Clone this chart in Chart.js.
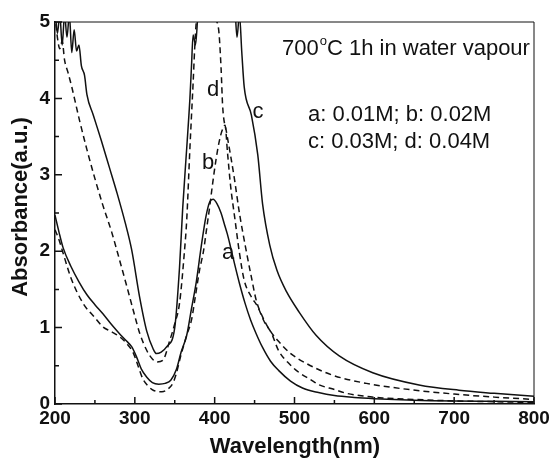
<!DOCTYPE html>
<html>
<head>
<meta charset="utf-8">
<script src="https://cdn.jsdelivr.net/npm/chart.js@4/dist/chart.umd.min.js"></script>
<style>
  html, body { margin: 0; padding: 0; background: #fff; }
  #wrap { position: relative; width: 554px; height: 460px; }
</style>
</head>
<body>
<div id="wrap"><canvas id="chart"></canvas></div>
<script>
const FONT = '"Liberation Sans", Arial, sans-serif';

// wavelength (nm) / absorbance
const aX = [200, 205, 210, 220, 230, 240, 250, 260, 270, 280, 290, 296, 302, 308, 315, 322, 330, 338, 345, 352, 358, 365, 371, 377, 383, 389, 394, 398, 403, 408, 412, 416, 420, 425, 431, 438, 445, 452, 460, 470, 480, 495, 510, 530, 550, 575, 600, 650, 700, 750, 800];
const aY = [2.47, 2.25, 2.05, 1.8, 1.6, 1.43, 1.3, 1.18, 1.05, 0.93, 0.82, 0.75, 0.62, 0.46, 0.35, 0.28, 0.26, 0.27, 0.31, 0.45, 0.68, 0.9, 1.25, 1.6, 2.05, 2.45, 2.65, 2.68, 2.62, 2.5, 2.36, 2.22, 2.05, 1.83, 1.58, 1.32, 1.1, 0.92, 0.74, 0.56, 0.44, 0.3, 0.21, 0.15, 0.11, 0.085, 0.07, 0.05, 0.04, 0.035, 0.03];

const bX = [200, 205, 210, 220, 235, 250, 260, 270, 281, 290, 298, 304, 310, 317, 323, 334, 342, 348, 352, 358, 365, 371, 376, 381, 386, 390, 394, 397, 402, 406, 409, 413, 416, 420, 425, 431, 437, 445, 454, 462, 471, 480, 494, 506, 520, 531, 550, 565, 590, 610, 650, 700, 750, 800];
const bY = [2.28, 2.15, 1.98, 1.65, 1.32, 1.13, 1.01, 0.95, 0.88, 0.79, 0.67, 0.5, 0.33, 0.23, 0.18, 0.16, 0.2, 0.28, 0.4, 0.65, 0.9, 1.1, 1.42, 1.75, 2.0, 2.3, 2.6, 2.85, 3.22, 3.45, 3.57, 3.65, 3.3, 2.85, 2.45, 1.98, 1.62, 1.42, 1.27, 1.08, 0.93, 0.7, 0.52, 0.41, 0.32, 0.25, 0.19, 0.14, 0.1, 0.08, 0.06, 0.04, 0.03, 0.02];

const cX = [200, 203, 206, 209, 212, 215, 218, 221, 224, 227, 230, 233, 237, 240, 248, 258, 268, 278, 288, 296, 306, 315, 323, 327, 333, 340, 350, 356, 360, 365, 369, 371, 373, 376, 380, 400, 425, 428, 431, 434, 437, 446, 454, 460, 469, 478, 490, 506, 527, 556, 598, 656, 706, 750, 800];
const cY = [5.2, 4.85, 5.1, 4.7, 5.1, 4.8, 5.1, 4.6, 4.9, 4.62, 4.7, 4.43, 4.3, 4.05, 3.78, 3.45, 3.1, 2.75, 2.37, 2.02, 1.4, 0.95, 0.72, 0.66, 0.68, 0.75, 1.0, 1.79, 2.57, 3.35, 4.0, 4.43, 4.83, 4.7, 5.2, 5.3, 5.2, 4.8, 5.1, 4.6, 4.15, 3.78, 3.26, 2.62, 2.08, 1.75, 1.47, 1.2, 0.9, 0.63, 0.41, 0.25, 0.18, 0.14, 0.1];

const dX = [200, 203, 206, 209, 212, 216, 221, 225, 231, 240, 250, 260, 271, 281, 291, 300, 306, 315, 322, 328, 335, 344, 350, 356, 362, 365, 369, 371, 373, 375, 377, 385, 395, 400, 405, 408, 410, 415, 420, 425, 431, 440, 446, 452, 460, 470, 480, 494, 515, 547, 590, 635, 700, 750, 800];
const dY = [5.1, 4.8, 4.65, 4.75, 4.5, 4.35, 4.15, 3.97, 3.7, 3.33, 2.95, 2.6, 2.25, 1.88, 1.5, 1.15, 0.93, 0.7, 0.59, 0.55, 0.57, 0.84, 1.05, 1.32, 1.98, 2.41, 3.35, 3.78, 4.2, 4.66, 5.0, 5.3, 5.3, 5.05, 4.9, 4.4, 3.9, 3.55, 3.25, 2.93, 2.5, 1.98, 1.66, 1.36, 1.14, 0.95, 0.82, 0.67, 0.53, 0.38, 0.27, 0.2, 0.13, 0.09, 0.06];

const xTicks = [200, 300, 400, 500, 600, 700, 800];
const yTicks = [0, 1, 2, 3, 4, 5];

const toPoints = (xs, ys) => xs.map((x, i) => ({ x: x, y: ys[i] }));

const line = (xs, ys, dashed) => ({
    data: toPoints(xs, ys),
    borderColor: '#111',
    borderWidth: 1.5,
    borderDash: dashed ? [6, 4] : [],
    pointRadius: 0,
    fill: false,
    cubicInterpolationMode: 'monotone',
    clip: 0,
});

// inward ticks, top/right frame and all free text
const decor = {
    id: 'decor',
    afterDraw(chart) {
        const ctx = chart.ctx;
        const xs = chart.scales.x, ys = chart.scales.y;
        const a = chart.chartArea;
        ctx.save();
        ctx.strokeStyle = '#111';
        ctx.lineWidth = 1.5;
        ctx.beginPath();
        for (let v = 200; v <= 800; v += 50) {
            const px = xs.getPixelForValue(v);
            const len = v % 100 === 0 ? 7 : 4;
            ctx.moveTo(px, a.bottom);
            ctx.lineTo(px, a.bottom - len);
        }
        for (let v = 0; v <= 5; v += 0.5) {
            const py = ys.getPixelForValue(v);
            const len = Number.isInteger(v) ? 7 : 4;
            ctx.moveTo(a.left, py);
            ctx.lineTo(a.left + len, py);
        }
        ctx.stroke();

        ctx.lineWidth = 1;
        ctx.beginPath();
        ctx.moveTo(a.left, a.top);
        ctx.lineTo(a.right, a.top);
        ctx.lineTo(a.right, a.bottom);
        ctx.stroke();

        ctx.fillStyle = '#111';
        ctx.textBaseline = 'middle';
        ctx.textAlign = 'center';
        ctx.font = 'bold 22px ' + FONT;
        ctx.fillText('Wavelength(nm)', 295, 447);
        ctx.save();
        ctx.translate(21, 207);
        ctx.rotate(-Math.PI / 2);
        ctx.fillText('Absorbance(a.u.)', 0, 0);
        ctx.restore();

        ctx.textBaseline = 'alphabetic';
        ctx.textAlign = 'left';
        ctx.font = '22px ' + FONT;
        let x = 282;
        ctx.fillText('700', x, 55);
        x += ctx.measureText('700').width;
        ctx.font = '13px ' + FONT;
        ctx.fillText('o', x + 1, 45);
        x += ctx.measureText('o').width + 1;
        ctx.font = '22px ' + FONT;
        ctx.fillText('C 1h in water vapour', x, 55);

        ctx.fillText('a: 0.01M; b: 0.02M', 308, 121);
        ctx.fillText('c: 0.03M; d: 0.04M', 308, 148);

        ctx.textAlign = 'center';
        ctx.textBaseline = 'middle';
        ctx.fillText('d', 213, 90);
        ctx.fillText('b', 208, 163);
        ctx.fillText('c', 258, 112);
        ctx.fillText('a', 228, 253);
        ctx.restore();
    }
};

new Chart(document.getElementById('chart'), {
    type: 'line',
    data: {
        datasets: [
            line(aX, aY, false),
            line(bX, bY, true),
            line(cX, cY, false),
            line(dX, dY, true),
        ]
    },
    options: {
        responsive: true,
        maintainAspectRatio: false,
        animation: false,
        events: [],
        layout: { padding: { top: 22, right: 20, left: 0, bottom: 0 } },
        plugins: { legend: { display: false }, tooltip: { enabled: false } },
        scales: {
            x: {
                type: 'linear',
                min: 200,
                max: 800,
                afterBuildTicks: (s) => { s.ticks = xTicks.map(v => ({ value: v })); },
                afterFit: (s) => { s.height = 56; },
                grid: { display: false, drawTicks: false },
                border: { display: true, color: '#111', width: 1.5 },
                ticks: { color: '#111', padding: 3, font: { family: FONT, size: 19, weight: 'bold' } },
            },
            y: {
                min: 0,
                max: 5,
                afterBuildTicks: (s) => { s.ticks = yTicks.map(v => ({ value: v })); },
                afterFit: (s) => { s.width = 55; },
                grid: { display: false, drawTicks: false },
                border: { display: true, color: '#111', width: 1.5 },
                ticks: { color: '#111', padding: 5, font: { family: FONT, size: 19, weight: 'bold' } },
            }
        }
    },
    plugins: [decor]
});
</script>
</body>
</html>
